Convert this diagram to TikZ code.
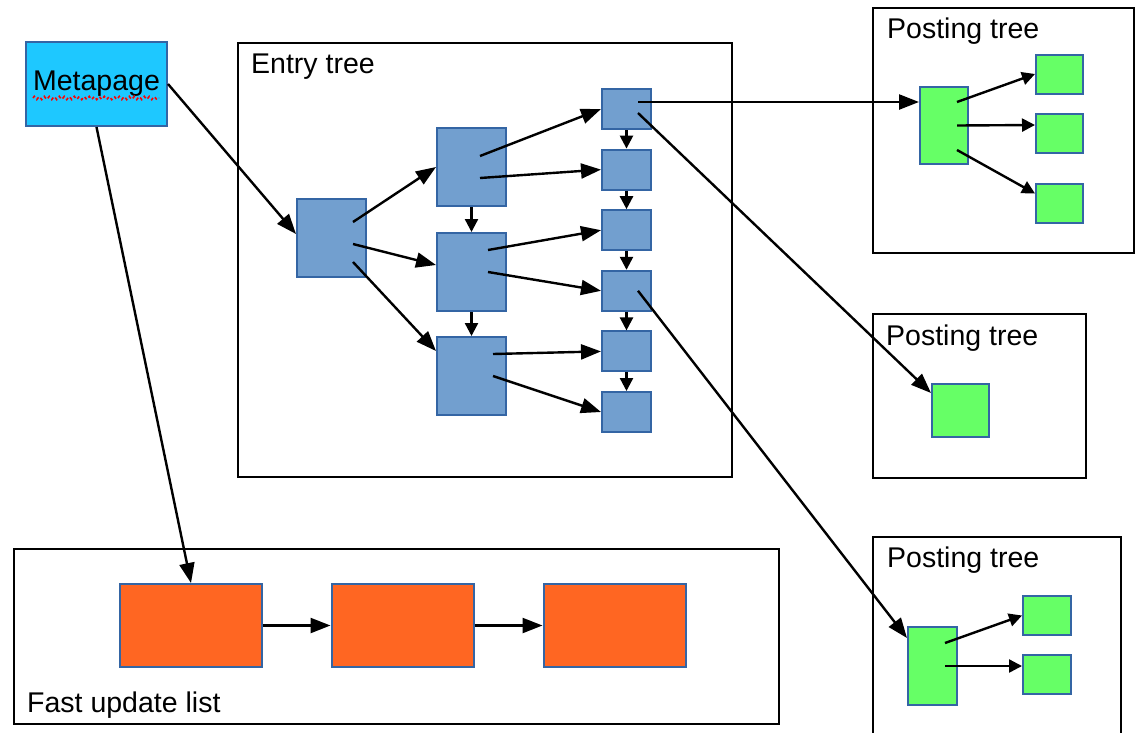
\documentclass[tikz,border=0pt]{standalone}
\usepackage{fontspec}
\setmainfont{Liberation Sans}
\usepackage{tikz}
\usetikzlibrary{arrows.meta, calc, decorations.pathmorphing}

\definecolor{metacol}{HTML}{1EC8FF}
\definecolor{entrycol}{HTML}{729FCF}
\definecolor{postcol}{HTML}{66FF66}
\definecolor{fastcol}{HTML}{FF6622}
\definecolor{edgecol}{HTML}{3465A4}

\tikzset{
  page/.style={draw=edgecol, line width=2pt, inner sep=0pt},
  frame/.style={draw=black, line width=2.8pt},
  link/.style={-{Triangle[length=20pt,width=15pt]}, line width=2.4pt},
  hop/.style={-{Triangle[length=13pt,width=13pt]}, line width=2.4pt},
  title/.style={anchor=base west, inner sep=0pt, font=\fontsize{28.5}{34}\selectfont},
}

\begin{document}
\begin{tikzpicture}[x=1pt, y=-1pt]
\useasboundingbox (0,0) rectangle (1145,732);
\clip (0,0) rectangle (1145,732);
\fill[white] (0,0) rectangle (1145,732);

% frames
\draw[frame] (238,43) rectangle (732,477);
\draw[frame] (873,8) rectangle (1134,253);
\draw[frame] (873,314) rectangle (1086,478);
\draw[frame] (873,537) rectangle (1121,750);
\draw[frame] (14,549) rectangle (779,724);

\node[title] (entrylbl) at (251,73) {Entry tree};
\node[title] (postlblA) at (887,38) {Posting tree};
\node[title] (postlblB) at (886,345) {Posting tree};
\node[title] (postlblC) at (887,567) {Posting tree};
\node[title] (fastlbl) at (27,712) {Fast update list};

% metapage
\node[page, fill=metacol, minimum width=141pt, minimum height=84pt,
      font=\fontsize{28.5}{34}\selectfont] (meta) at (96.5,84) {Metapage};
\draw[red, line width=1.6pt, dashed, decorate,
      decoration={zigzag, amplitude=1.6pt, segment length=5pt}] (33,98) -- (159,98);

% entry tree
\node[page, fill=entrycol, minimum width=69pt, minimum height=78pt] (root) at (331.5,238) {};
\node[page, fill=entrycol, minimum width=69pt, minimum height=78pt] (midA) at (471.5,167) {};
\node[page, fill=entrycol, minimum width=69pt, minimum height=78pt] (midB) at (471.5,272) {};
\node[page, fill=entrycol, minimum width=69pt, minimum height=78pt] (midC) at (471.5,376) {};
\node[page, fill=entrycol, minimum width=49pt, minimum height=40pt] (leafA) at (626.5,109) {};
\node[page, fill=entrycol, minimum width=49pt, minimum height=40pt] (leafB) at (626.5,169.6) {};
\node[page, fill=entrycol, minimum width=49pt, minimum height=40pt] (leafC) at (626.5,230.2) {};
\node[page, fill=entrycol, minimum width=49pt, minimum height=40pt] (leafD) at (626.5,290.8) {};
\node[page, fill=entrycol, minimum width=49pt, minimum height=40pt] (leafE) at (626.5,351.4) {};
\node[page, fill=entrycol, minimum width=49pt, minimum height=40pt] (leafF) at (626.5,412) {};

% posting trees
\node[page, fill=postcol, minimum width=48pt, minimum height=77pt] (postA) at (944,125.5) {};
\node[page, fill=postcol, minimum width=47pt, minimum height=39pt] (postAa) at (1059.5,74) {};
\node[page, fill=postcol, minimum width=47pt, minimum height=39pt] (postAb) at (1059.5,133) {};
\node[page, fill=postcol, minimum width=47pt, minimum height=39pt] (postAc) at (1059.5,203.5) {};
\node[page, fill=postcol, minimum width=57pt, minimum height=53pt] (postB) at (960.5,410.5) {};
\node[page, fill=postcol, minimum width=49pt, minimum height=78pt] (postC) at (932.5,666) {};
\node[page, fill=postcol, minimum width=48pt, minimum height=39pt] (postCa) at (1047,615.5) {};
\node[page, fill=postcol, minimum width=48pt, minimum height=39pt] (postCb) at (1047,674) {};

% fast update list
\node[page, fill=fastcol, minimum width=142pt, minimum height=83pt] (fastA) at (191,625.5) {};
\node[page, fill=fastcol, minimum width=142pt, minimum height=83pt] (fastB) at (402.5,625.5) {};
\node[page, fill=fastcol, minimum width=142pt, minimum height=83pt] (fastC) at (614.5,625.5) {};

% arrows
\draw[link] (meta.east) -- ($(root.west)+(0,-4)$);
\draw[link] (meta.south) -- (fastA.north);
\draw[link] (fastA.east) -- (fastB.west);
\draw[link] (fastB.east) -- (fastC.west);

\draw[link] ($(root.center)+(21.5,-16)$) -- (midA.west);
\draw[link] ($(root.center)+(21.5,6)$) -- ($(midB.west)+(0,-7)$);
\draw[link] ($(root.center)+(21.5,24)$) -- ($(midC.west)+(0,-25)$);
\draw[hop] (midA.south) -- (midB.north);
\draw[hop] (midB.south) -- (midC.north);

\draw[link] ($(midA.center)+(8.5,-11)$) -- (leafA.west);
\draw[link] ($(midA.center)+(8.5,11)$) -- (leafB.west);
\draw[link] ($(midB.center)+(16.5,-22)$) -- (leafC.west);
\draw[link] ($(midB.center)+(16.5,0)$) -- (leafD.west);
\draw[link] ($(midC.center)+(21.5,-22)$) -- (leafE.west);
\draw[link] ($(midC.center)+(21.5,0)$) -- (leafF.west);
\draw[hop] (leafA.south) -- (leafB.north);
\draw[hop] (leafB.south) -- (leafC.north);
\draw[hop] (leafC.south) -- (leafD.north);
\draw[hop] (leafD.south) -- (leafE.north);
\draw[hop] (leafE.south) -- (leafF.north);

\draw[link] ($(leafA.center)+(11.5,-7)$) -- ($(postA.west)+(0,-23.5)$);
\draw[link] ($(leafA.center)+(11.5,4)$) -- ($(postB.west)+(0,-17.5)$);
\draw[link] ($(leafD.center)+(11.5,0)$) -- ($(postC.west)+(0,-28)$);

\draw[hop] ($(postA.center)+(13,-23.5)$) -- (postAa.west);
\draw[hop] ($(postA.center)+(13,0)$) -- ($(postAb.west)+(0,-8)$);
\draw[hop] ($(postA.center)+(13,24.5)$) -- ($(postAc.west)+(0,-10)$);
\draw[hop] ($(postC.center)+(12.5,-23)$) -- (postCa.west);
\draw[hop] ($(postC.center)+(12.5,0)$) -- ($(postCb.west)+(0,-8)$);
\end{tikzpicture}
\end{document}
